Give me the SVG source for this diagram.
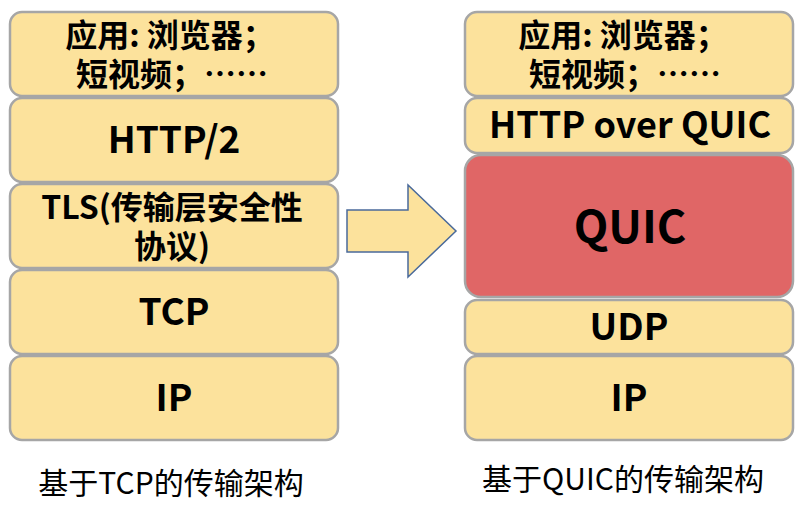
<svg xmlns="http://www.w3.org/2000/svg" width="803" height="505" viewBox="0 0 803 505">
<style>
.b{fill:#FCE29C;stroke:#A6A6A6;stroke-width:2.5}
.r{fill:#E06666;stroke:#A6A6A6;stroke-width:2.5}
text{font-family:"Noto Sans CJK SC","Noto Sans",sans-serif;font-weight:bold;fill:#000;text-anchor:middle}
.c{font-weight:normal;font-size:30px}
</style>
<rect width="803" height="505" fill="#fff"/>
<g id="left">
<g id="l-app"><rect class="b" x="10" y="12" width="328" height="84" rx="12"/><text x="170" y="47" font-size="32">应用: 浏览器；</text><text x="172" y="86" font-size="32">短视频；……</text></g>
<g id="l-http"><rect class="b" x="10" y="98" width="328" height="84" rx="12"/><text x="174" y="153" font-size="37">HTTP/2</text></g>
<g id="l-tls"><rect class="b" x="10" y="184" width="328" height="84" rx="12"/><text x="172" y="219" font-size="32">TLS(传输层安全性</text><text x="172" y="258" font-size="32">协议)</text></g>
<g id="l-tcp"><rect class="b" x="10" y="270" width="328" height="84" rx="12"/><text x="174" y="325" font-size="37">TCP</text></g>
<g id="l-ip"><rect class="b" x="10" y="356" width="328" height="84" rx="12"/><text x="174" y="411" font-size="37">IP</text></g>
</g>
<g id="connectors"><polygon points="347,210 408,210 408,185 456,231 408,277 408,252 347,252" fill="#FCE29C" stroke="#4A6A9A" stroke-width="1.5"/></g>
<g id="right">
<g id="r-app"><rect class="b" x="465" y="12" width="328" height="84" rx="12"/><text x="623" y="47" font-size="32">应用: 浏览器；</text><text x="625" y="86" font-size="32">短视频；……</text></g>
<g id="r-http"><rect class="b" x="465" y="98" width="328" height="55" rx="12"/><text x="630" y="138" font-size="36">HTTP over QUIC</text></g>
<g id="r-quic"><rect class="r" x="465" y="155" width="328" height="142" rx="16"/><text x="630" y="243" font-size="45">QUIC</text></g>
<g id="r-udp"><rect class="b" x="465" y="300" width="328" height="54" rx="12"/><text x="629" y="340" font-size="37">UDP</text></g>
<g id="r-ip"><rect class="b" x="465" y="356" width="328" height="84" rx="12"/><text x="629" y="411" font-size="37">IP</text></g>
</g>
<text class="c" x="171" y="494">基于TCP的传输架构</text>
<text class="c" x="623" y="490">基于QUIC的传输架构</text>
</svg>
